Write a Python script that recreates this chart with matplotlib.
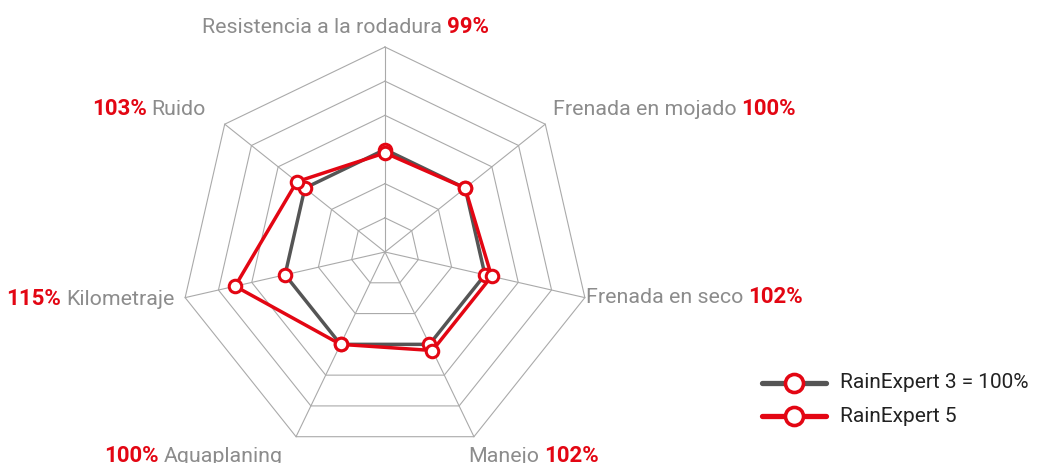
import numpy as np
import matplotlib.pyplot as plt
from matplotlib.lines import Line2D

plt.rcParams['font.family'] = ['Roboto', 'DejaVu Sans']

categories = ["Resistencia a la rodadura", "Frenada en mojado", "Frenada en seco",
              "Manejo", "Aquaplaning", "Kilometraje", "Ruido"]
rainexpert3 = [100, 100, 100, 100, 100, 100, 100]
rainexpert5 = [99, 100, 102, 102, 100, 115, 103]
pct_labels = ["99%", "100%", "102%", "102%", "100%", "115%", "103%"]
series_names = ["RainExpert 3 = 100%", "RainExpert 5"]
ring_levels = [80, 90, 100, 110, 120, 130]
r_min = 70

RED = "#e30613"
DARK = "#555555"
GRID = "#aaaaaa"
TXT = "#8c8c8c"

W, H = 1037, 463
CX, CY, R = 385, 252, 205  # centre and outer radius in px

fig = plt.figure(figsize=(W / 100, H / 100), dpi=100)
ax = fig.add_axes([0, 0, 1, 1])
ax.set_xlim(-CX / R, (W - CX) / R)
ax.set_ylim(-(H - CY) / R, CY / R)
ax.set_aspect('equal')
ax.axis('off')

n = len(categories)
ang = np.arange(n) * 2 * np.pi / n


def xy(vals, close=True):
    r = (np.asarray(vals, float) - r_min) / (ring_levels[-1] - r_min)
    x, y = r * np.sin(ang), r * np.cos(ang)
    if close:
        x, y = np.append(x, x[0]), np.append(y, y[0])
    return x, y


# heptagon grid
for lvl in ring_levels:
    gx, gy = xy([lvl] * n)
    ax.plot(gx, gy, color=GRID, lw=0.8, zorder=1)
ox, oy = xy([ring_levels[-1]] * n, close=False)
for x, y in zip(ox, oy):
    ax.plot([0, x], [0, y], color=GRID, lw=0.8, zorder=1)

# series
for vals, col in [(rainexpert3, DARK), (rainexpert5, RED)]:
    sx, sy = xy(vals)
    ax.plot(sx, sy, color=col, lw=2.5, zorder=3, solid_joinstyle='round')
    ax.plot(sx[:-1], sy[:-1], 'o', ms=9, mfc='white', mec=RED, mew=2.2, zorder=4)

# axis labels: (boundary x, baseline y, name first?)
label_pos = [(445, 33, True), (739, 115, True), (746, 303, True), (542, 462, True),
             (161, 462, False), (64, 305, False), (149, 115, False)]
fs_name, fs_pct = 15.4, 16
for name, pct, (bx, by, name_first) in zip(categories, pct_labels, label_pos):
    yy = 1 - by / H
    g = 2.5
    if name_first:
        fig.text((bx - g) / W, yy, name, ha='right', va='baseline', fontsize=fs_name, color=TXT)
        fig.text((bx + g) / W, yy, pct, ha='left', va='baseline', fontsize=fs_pct,
                 color=RED, fontweight='bold')
    else:
        fig.text((bx - g) / W, yy, pct, ha='right', va='baseline', fontsize=fs_pct,
                 color=RED, fontweight='bold')
        fig.text((bx + g) / W, yy, name, ha='left', va='baseline', fontsize=fs_name, color=TXT)

# legend
for i, (name, col) in enumerate(zip(series_names, [DARK, RED])):
    ly = 1 - (383 + 33 * i) / H
    fig.add_artist(Line2D([762 / W, 826 / W], [ly, ly], color=col, lw=3.8,
                          solid_capstyle='round', transform=fig.transFigure))
    fig.add_artist(Line2D([794 / W], [ly], marker='o', ms=13, mfc='white', mec=RED,
                          mew=2.6, transform=fig.transFigure))
    fig.text(840 / W, ly, name, ha='left', va='center', fontsize=15, color='#222222')

fig.savefig("out.png", dpi=100)
